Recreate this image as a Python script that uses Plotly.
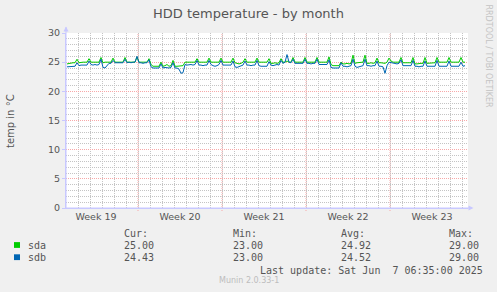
import pandas as pd
import plotly.graph_objects as go

# ---------------- data (4-hour samples, 02:00,06:00,...,22:00 each day from 2025-05-05) -------------
sda_vals = [
    24.7, 24.8, 24.8, 24.9, 24.9, 25.5,   # May 05
    24.9, 25.0, 25.0, 25.0, 25.0, 25.6,   # May 06
    25.0, 25.0, 25.0, 25.0, 25.0, 25.8,   # May 07
    24.9, 25.0, 25.0, 25.0, 25.0, 25.7,   # May 08
    25.0, 25.0, 25.0, 25.0, 25.0, 25.8,   # May 09
    25.0, 25.0, 25.0, 25.0, 25.0, 25.9,   # May 10
    25.0, 25.0, 25.0, 25.0, 25.0, 25.6,   # May 11
    24.6, 24.3, 24.3, 24.3, 24.3, 25.0,   # May 12
    24.3, 24.4, 24.6, 24.3, 24.4, 25.3,   # May 13
    24.3, 24.3, 24.3, 24.3, 24.4, 25.0,   # May 14
    25.0, 25.0, 24.9, 25.0, 25.0, 25.6,   # May 15
    25.0, 25.0, 25.0, 25.0, 25.0, 25.7,   # May 16
    25.0, 25.0, 25.0, 25.0, 25.0, 25.7,   # May 17
    25.0, 25.0, 25.0, 25.0, 25.0, 25.7,   # May 18
    24.9, 24.8, 24.7, 24.8, 25.0, 25.6,   # May 19
    25.0, 25.0, 25.0, 25.0, 25.0, 25.7,   # May 20
    25.0, 25.0, 25.0, 25.0, 25.0, 25.6,   # May 21
    24.8, 24.8, 24.9, 24.8, 24.9, 25.6,   # May 22
    25.0, 25.0, 25.2, 25.0, 25.0, 25.8,   # May 23
    25.0, 25.0, 25.0, 25.0, 25.0, 25.8,   # May 24
    25.0, 25.0, 25.0, 25.0, 25.0, 25.8,   # May 25
    25.0, 25.0, 25.0, 25.0, 25.0, 25.9,   # May 26
    24.6, 24.4, 24.4, 24.5, 24.4, 25.0,   # May 27
    24.7, 24.7, 24.8, 24.7, 24.8, 26.2,   # May 28
    24.8, 24.9, 24.9, 25.0, 25.0, 26.2,   # May 29
    24.8, 24.8, 24.9, 24.8, 24.9, 25.7,   # May 30
    24.9, 24.9, 24.9, 24.8, 25.0, 25.7,   # May 31
    25.2, 25.0, 25.0, 25.0, 25.0, 25.8,   # Jun 01
    24.9, 24.9, 24.9, 24.9, 24.9, 25.8,   # Jun 02
    24.7, 24.7, 24.8, 24.8, 24.8, 25.8,   # Jun 03
    24.8, 24.8, 24.9, 24.8, 24.9, 25.8,   # Jun 04
    25.0, 25.0, 25.0, 25.0, 25.0, 25.8,   # Jun 05
    25.0, 25.0, 25.0, 25.0, 25.0, 25.8,   # Jun 06
    25.0, 25.0,                           # Jun 07
]
sdb_vals = [
    24.2, 24.2, 24.3, 24.2, 24.3, 24.9,
    24.4, 24.5, 24.5, 24.4, 24.5, 25.2,
    24.6, 24.5, 24.6, 24.5, 24.6, 25.5,
    24.1, 24.0, 24.4, 24.8, 24.8, 25.3,
    24.9, 24.9, 24.8, 24.9, 24.9, 25.5,
    24.9, 25.0, 24.9, 25.0, 25.0, 26.0,
    24.9, 24.9, 24.8, 24.9, 24.9, 25.4,
    24.2, 24.0, 24.0, 24.0, 24.0, 24.7,
    24.0, 24.1, 24.0, 24.0, 24.1, 24.9,
    24.0, 24.0, 23.8, 23.1, 23.2, 24.6,
    24.5, 24.6, 24.6, 24.5, 24.6, 25.3,
    24.5, 24.5, 24.4, 24.5, 24.5, 25.3,
    24.6, 24.4, 24.3, 24.4, 24.6, 25.3,
    24.5, 24.5, 24.5, 24.4, 24.5, 25.2,
    24.2, 24.1, 24.2, 24.3, 24.5, 25.2,
    24.5, 24.5, 24.4, 24.5, 24.5, 25.3,
    24.4, 24.3, 24.3, 24.2, 24.3, 25.1,
    24.5, 24.4, 24.5, 24.6, 24.5, 25.3,
    24.8, 25.0, 26.3, 25.0, 24.9, 25.5,
    24.8, 24.8, 24.8, 24.7, 24.8, 25.5,
    24.8, 24.8, 24.7, 24.8, 24.8, 25.5,
    24.6, 24.6, 24.6, 24.5, 24.6, 25.4,
    24.1, 24.0, 24.0, 23.9, 24.0, 24.9,
    24.3, 24.3, 24.2, 24.3, 24.4, 25.5,
    24.3, 24.1, 24.2, 24.3, 24.4, 25.5,
    24.4, 24.4, 24.3, 24.4, 24.4, 25.2,
    24.3, 24.3, 24.2, 23.1, 24.4, 25.0,
    24.9, 24.8, 24.8, 24.7, 24.8, 25.4,
    24.4, 24.4, 24.4, 24.3, 24.4, 25.3,
    24.3, 24.3, 24.2, 24.3, 24.3, 25.2,
    24.3, 24.3, 24.3, 24.2, 24.3, 25.3,
    24.3, 24.3, 24.3, 24.3, 24.3, 25.2,
    24.3, 24.3, 24.3, 24.2, 24.3, 25.0,
    24.3, 24.4,
]
series_names = ["sda", "sdb"]
series_colors = ["#00cc00", "#0066b3"]
cur_vals = [25.00, 24.43]
min_vals = [23.00, 23.00]
avg_vals = [24.92, 24.52]
max_vals = [29.00, 29.00]

week_labels = ["Week 19", "Week 20", "Week 21", "Week 22", "Week 23"]
week_label_pos = ["2025-05-07 12:00", "2025-05-14 12:00", "2025-05-21 12:00",
                  "2025-05-28 12:00", "2025-06-04 12:00"]
week_bounds = ["2025-05-11", "2025-05-18", "2025-05-25", "2025-06-01"]
x_range = ["2025-05-05 00:00", "2025-06-07 12:00"]
y_ticks = [0, 5, 10, 15, 20, 25, 30]

title_text = "HDD temperature - by month"
ylabel_text = "temp in °C"
last_update = "Last update: Sat Jun  7 06:35:00 2025"
munin_ver = "Munin 2.0.33-1"
side_text = "RRDTOOL / TOBI OETIKER"

times = pd.date_range("2025-05-05 02:00", periods=len(sda_vals), freq="4h")

# ---------------- geometry helpers (pixel -> paper) ----------------
W, H = 497, 292
L, R, T, B = 66, 468, 33, 208


def px(x):
    return (x - L) / (R - L)


def py(y):
    return (B - y) / (B - T)


TXT = "#555555"
AXC = "#c8c8ff"
MINOR = "#c4c4c4"
MAJOR = "#f7a8a8"

fig = go.Figure()
for name, vals, col in zip(series_names, [sda_vals, sdb_vals], series_colors):
    fig.add_trace(go.Scatter(x=times, y=vals, mode="lines", name=name,
                             line=dict(color=col, width=1), hoverinfo="skip"))

fig.update_layout(
    width=W, height=H, autosize=False,
    margin=dict(l=L, r=W - R, t=T, b=H - B),
    paper_bgcolor="#f0f0f0", plot_bgcolor="#ffffff",
    showlegend=False,
    title=dict(text=title_text, x=0.5, xanchor="center", y=1 - 13.5 / H,
               yanchor="middle", font=dict(family="DejaVu Sans", size=13, color=TXT)),
    font=dict(family="DejaVu Sans", color=TXT),
)

fig.update_xaxes(
    type="date", range=x_range,
    tickmode="array", tickvals=week_label_pos, ticktext=week_labels,
    showgrid=False, ticks="", tickfont=dict(size=9.5, color=TXT),
    showline=True, linecolor=AXC, linewidth=1, zeroline=False,
    minor=dict(tick0="2025-05-05", dtick=86400000, showgrid=True,
               gridcolor=MINOR, griddash="1px,1px", gridwidth=1, ticks=""),
    fixedrange=True,
)
fig.update_yaxes(
    range=[0, 30], tickmode="array", tickvals=y_ticks,
    showgrid=True, gridcolor=MAJOR, griddash="1px,1px", gridwidth=1,
    ticks="outside", ticklen=3, tickcolor=AXC, tickfont=dict(size=9.5, color=TXT),
    showline=True, linecolor=AXC, linewidth=1, zeroline=False,
    minor=dict(dtick=1, showgrid=True, gridcolor=MINOR, griddash="1px,1px", gridwidth=1),
    fixedrange=True,
)

# red week boundary lines
for wb in week_bounds:
    fig.add_shape(type="line", xref="x", yref="paper", x0=wb, x1=wb, y0=-3 / (B - T), y1=1,
                  line=dict(color=MAJOR, width=1, dash="1px,1px"), layer="below")

# axis arrows
fig.add_shape(type="line", xref="paper", yref="paper", x0=px(66), x1=px(66), y0=py(B), y1=py(27),
              line=dict(color=AXC, width=1))
fig.add_shape(type="path", xref="paper", yref="paper",
              path=f"M {px(63.5)},{py(31.5)} L {px(66)},{py(26.5)} L {px(68.5)},{py(31.5)} Z",
              fillcolor=AXC, line=dict(color=AXC, width=0))
fig.add_shape(type="line", xref="paper", yref="paper", x0=0, x1=px(472), y0=0, y1=0,
              line=dict(color=AXC, width=1))
fig.add_shape(type="path", xref="paper", yref="paper",
              path=f"M {px(468.5)},{py(205.5)} L {px(473.5)},{py(208)} L {px(468.5)},{py(210.5)} Z",
              fillcolor=AXC, line=dict(color=AXC, width=0))


def ann(x, y, text, size=10, color=TXT, family="DejaVu Sans Mono", xanchor="left", angle=0):
    fig.add_annotation(x=px(x), y=py(y), xref="paper", yref="paper", text=text,
                       showarrow=False, xanchor=xanchor, yanchor="middle", textangle=angle,
                       font=dict(family=family, size=size, color=color), borderpad=0)


# y label and side text
ann(10.5, 120.5, ylabel_text, size=10, family="DejaVu Sans", xanchor="center", angle=-90)
ann(488.5, 56, side_text, size=8, color="#c4c4c4", family="DejaVu Sans", xanchor="center", angle=90)

# legend table
col_x = [122.5, 231.5, 339.5, 447.5]
for cx, hdr in zip(col_x, ["Cur:", "Min:", "Avg:", "Max:"]):
    ann(cx, 233.8, hdr)
row_y = [245.4, 257.6]
for i, name in enumerate(series_names):
    y = row_y[i]
    fig.add_shape(type="rect", xref="paper", yref="paper",
                  x0=px(14), x1=px(20), y0=py(y - 3.3), y1=py(y + 2.5),
                  fillcolor=series_colors[i], line=dict(width=0))
    ann(26.5, y, name)
    for cx, v in zip(col_x, [cur_vals[i], min_vals[i], avg_vals[i], max_vals[i]]):
        ann(cx, y, f"{v:.2f}")
ann(483.5, 270, last_update, xanchor="right")
ann(248.5, 280.8, munin_ver, size=8, color="#bdbdbd", family="DejaVu Sans", xanchor="center")

fig.write_html("out.html", config={"displayModeBar": False})
